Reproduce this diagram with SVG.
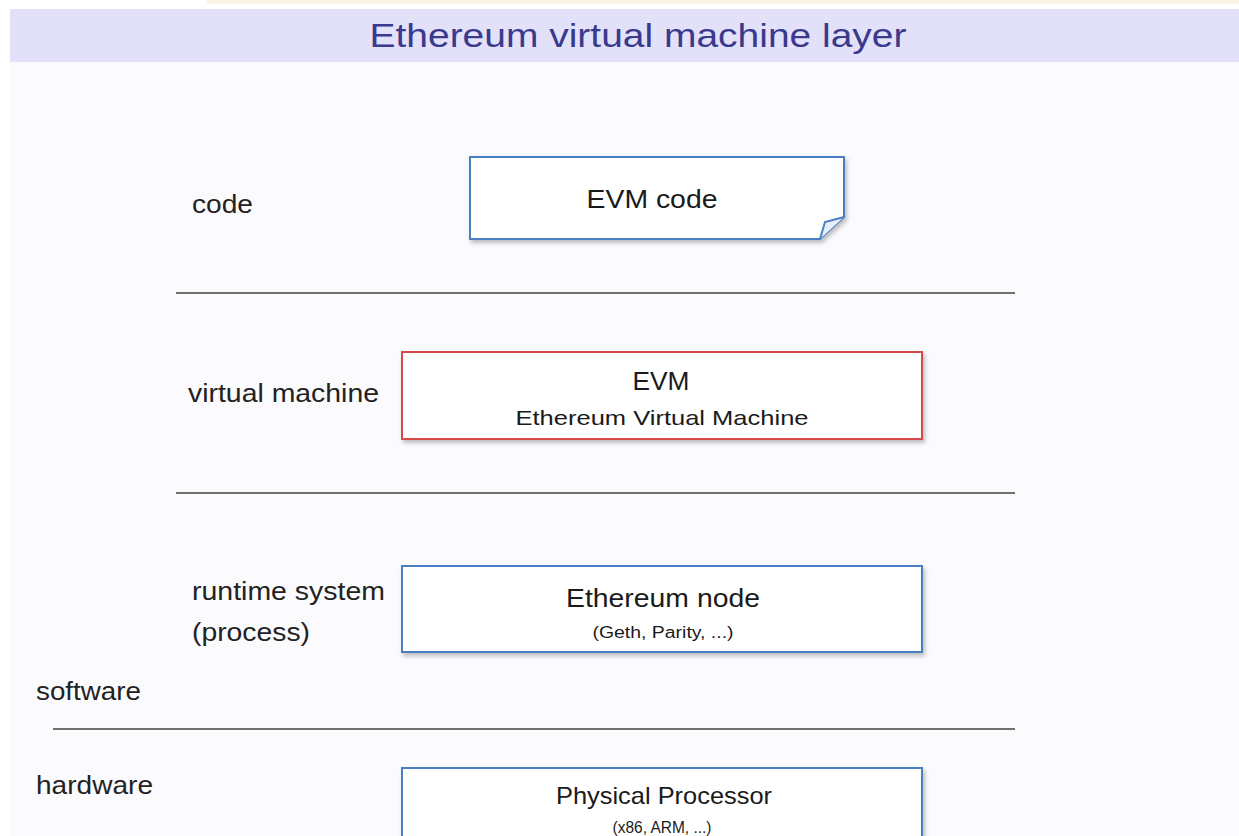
<svg xmlns="http://www.w3.org/2000/svg" width="1239" height="836" viewBox="0 0 1239 836">
<style>
.lbl{font-family:"Liberation Sans",Arial,sans-serif;fill:#222;font-size:26px}
.bt{font-family:"Liberation Sans",Arial,sans-serif;fill:#1a1a1a;text-anchor:middle}
.box{fill:#fff;stroke:#4a80c4;stroke-width:2;filter:url(#sh)}
.sep{stroke:#707070;stroke-width:2}
</style>
<defs>
<filter id="sh" x="-5%" y="-10%" width="110%" height="130%">
<feDropShadow dx="2" dy="3" stdDeviation="2" flood-color="#000" flood-opacity="0.25"/>
</filter>
</defs>
<rect width="1239" height="836" fill="#fbfbfe"/>
<rect x="0" y="0" width="10" height="836" fill="#ffffff"/>
<rect x="0" y="0" width="1239" height="9" fill="#ffffff"/>
<rect x="207" y="0" width="1032" height="4" fill="#fbf3e6"/>
<rect x="10" y="9" width="1229" height="53" fill="#e3e0fa"/>
<text x="638" y="47" font-family="Liberation Sans,Arial,sans-serif" font-size="34" fill="#3a3a8c" text-anchor="middle" textLength="537" lengthAdjust="spacingAndGlyphs">Ethereum virtual machine layer</text>
<g id="separators">
<line class="sep" x1="176" y1="293" x2="1015" y2="293"/>
<line class="sep" x1="176" y1="493" x2="1015" y2="493"/>
<line class="sep" x1="53" y1="729" x2="1015" y2="729"/>
</g>
<g id="labels">
<text class="lbl" x="192" y="213" textLength="61" lengthAdjust="spacingAndGlyphs">code</text>
<text class="lbl" x="188" y="402" textLength="191" lengthAdjust="spacingAndGlyphs">virtual machine</text>
<text class="lbl" x="192" y="600" textLength="193" lengthAdjust="spacingAndGlyphs">runtime system</text>
<text class="lbl" x="192" y="641" textLength="118" lengthAdjust="spacingAndGlyphs">(process)</text>
<text class="lbl" x="36" y="700" textLength="105" lengthAdjust="spacingAndGlyphs">software</text>
<text class="lbl" x="36" y="794" textLength="117" lengthAdjust="spacingAndGlyphs">hardware</text>
</g>
<g id="evm-code">
<path class="box" d="M470,157 H844 V217 L820,239 H470 Z"/>
<path d="M820,239 L825,222 L844,217" fill="#e8eef8" stroke="#4a80c4" stroke-width="2"/>
<text class="bt" x="652" y="208" font-size="25" textLength="131" lengthAdjust="spacingAndGlyphs">EVM code</text>
</g>
<g id="evm">
<rect class="box" x="402" y="352" width="520" height="87" style="stroke:#d84848"/>
<text class="bt" x="661" y="390" font-size="25" textLength="57" lengthAdjust="spacingAndGlyphs">EVM</text>
<text class="bt" x="662" y="425" font-size="21" textLength="293" lengthAdjust="spacingAndGlyphs">Ethereum Virtual Machine</text>
</g>
<g id="ethereum-node">
<rect class="box" x="402" y="566" width="520" height="86"/>
<text class="bt" x="663" y="607" font-size="26" textLength="194" lengthAdjust="spacingAndGlyphs">Ethereum node</text>
<text class="bt" x="663" y="638" font-size="16" textLength="141" lengthAdjust="spacingAndGlyphs">(Geth, Parity, ...)</text>
</g>
<g id="physical-processor">
<rect class="box" x="402" y="768" width="520" height="90"/>
<text class="bt" x="664" y="804" font-size="24" textLength="216" lengthAdjust="spacingAndGlyphs">Physical Processor</text>
<text class="bt" x="662" y="833" font-size="16" textLength="99" lengthAdjust="spacingAndGlyphs">(x86, ARM, ...)</text>
</g>
<g id="connectors"></g>
</svg>
